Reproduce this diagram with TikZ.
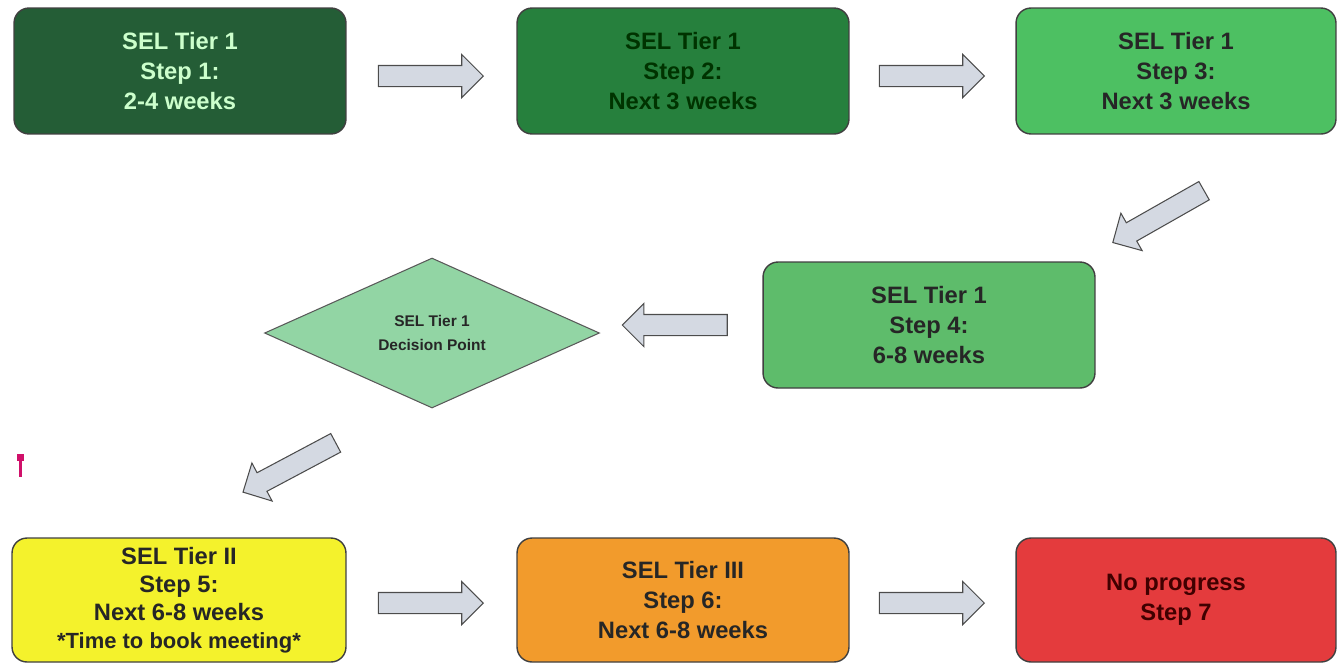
\documentclass[tikz,border=0pt]{standalone}
\usepackage{fontspec}
\setmainfont{Liberation Sans}
\usetikzlibrary{positioning, calc, shapes.geometric, shapes.arrows}

\definecolor{tierA}{HTML}{245D36}
\definecolor{tierB}{HTML}{26803D}
\definecolor{tierC}{HTML}{4DC062}
\definecolor{tierD}{HTML}{5EBC6B}
\definecolor{tierE}{HTML}{92D5A4}
\definecolor{tierII}{HTML}{F4F22C}
\definecolor{tierIII}{HTML}{F29B2C}
\definecolor{noprog}{HTML}{E43B3D}
\definecolor{arrowfill}{HTML}{D4D9E2}
\definecolor{pinmark}{HTML}{D0106A}

\tikzset{
  stepbox/.style={draw=black!75, line width=0.8pt, rounded corners=0.3cm,
    minimum width=6.64cm, minimum height=2.52cm, align=center,
    font=\fontsize{13.5}{17}\selectfont\bfseries, text=black!85},
  decision/.style={draw=black!65, line width=0.6pt, diamond, aspect=2.23,
    fill=tierE, minimum width=6.7cm, minimum height=3cm, inner sep=0pt,
    align=center, font=\fontsize{8.8}{13.5}\selectfont\bfseries, text=black!85},
  blockarrow/.style={single arrow, draw=black!70, line width=0.6pt, fill=arrowfill,
    minimum height=2.1cm, inner sep=0.2cm, single arrow head extend=0.22cm}
}

\begin{document}
\begin{tikzpicture}[x=0.02cm, y=-0.02cm]
  \useasboundingbox (0,0) rectangle (1337,664);

  % top row
  \node[stepbox, fill=tierA, text={green!20!white}] (s1) at (180,71)
    {SEL Tier 1\\Step 1:\\2-4 weeks};
  \node[stepbox, fill=tierB, text=black!80!green] (s2) at (683,71)
    {SEL Tier 1\\Step 2:\\Next 3 weeks};
  \node[stepbox, fill=tierC, minimum width=6.4cm] (s3) at (1176,71)
    {SEL Tier 1\\Step 3:\\Next 3 weeks};

  % middle row
  \node[stepbox, fill=tierD] (s4) at (929,325)
    {SEL Tier 1\\Step 4:\\6-8 weeks};
  \node[decision] (dp) at (432,333) {SEL Tier 1\\Decision Point};

  % bottom row
  \node[stepbox, fill=tierII, minimum width=6.68cm, minimum height=2.48cm,
    font=\fontsize{13.5}{16}\selectfont\bfseries] (s5) at (179,600)
    {SEL Tier II\\Step 5:\\Next 6-8 weeks\\\fontsize{12.5}{16}\selectfont *Time to book meeting*};
  \node[stepbox, fill=tierIII, minimum height=2.48cm] (s6) at (683,600)
    {SEL Tier III\\Step 6:\\Next 6-8 weeks};
  \node[stepbox, fill=noprog, minimum width=6.4cm, minimum height=2.48cm,
    text=black!75!red] (s7) at (1176,600)
    {No progress\\Step 7};

  % block arrows
  \node[blockarrow] (a12) at ($(s1.east)!0.5!(s2.west)+(-6,5)$) {};
  \node[blockarrow] (a23) at ($(s2.east)!0.5!(s3.west)+(-6,5)$) {};
  \node[blockarrow, rotate=209.6] (a34) at (1163,214) {};
  \node[blockarrow, rotate=180] (a4d) at (680,325) {};
  \node[blockarrow, rotate=208] (ad5) at (294,465) {};
  \node[blockarrow] (a56) at ($(s5.east)!0.5!(s6.west)+(-6,3)$) {};
  \node[blockarrow] (a67) at ($(s6.east)!0.5!(s7.west)+(-6,3)$) {};

  % small pink mark
  \fill[pinmark] (17,454) rectangle (24,461);
  \draw[pinmark, line width=1.3pt] (20.5,458) -- (20.5,477);
\end{tikzpicture}
\end{document}
